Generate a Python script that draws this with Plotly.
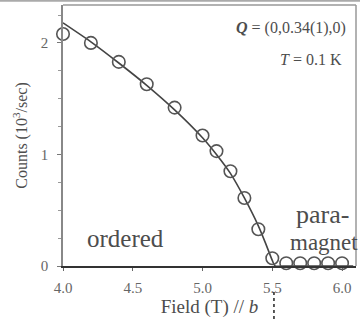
import plotly.graph_objects as go

# Measured intensity vs. field (H // b)
field = [4.0, 4.2, 4.4, 4.6, 4.8, 5.0, 5.1, 5.2, 5.3, 5.4, 5.5, 5.6, 5.7, 5.8, 5.9, 6.0]
counts = [2.08, 2.00, 1.83, 1.63, 1.42, 1.17, 1.03, 0.85, 0.61, 0.33, 0.07,
          0.025, 0.025, 0.025, 0.025, 0.025]

# Fitted order-parameter curve
fit_field = [4.0, 4.2, 4.4, 4.6, 4.8, 5.0, 5.1, 5.2, 5.3, 5.4, 5.45, 5.5, 5.52, 5.6, 5.8, 6.08]
fit_counts = [2.18, 2.01, 1.82, 1.62, 1.40, 1.15, 1.00, 0.83, 0.61, 0.36, 0.21, 0.05, 0.0, 0.0, 0.0, 0.0]

x_ticks = [4.0, 4.5, 5.0, 5.5, 6.0]
x_labels = ["4.0", "4.5", "5.0", "5.5", "6.0"]
y_ticks = [0, 1, 2]
y_labels = ["0", "1", "2"]

SERIF = "Liberation Serif, Times New Roman, serif"
INK = "#4d4d4d"

fig = go.Figure()
fig.add_trace(go.Scatter(
    x=fit_field, y=fit_counts, mode="lines",
    line=dict(color="#444444", width=1.6, shape="spline", smoothing=0.6),
    showlegend=False, hoverinfo="skip",
))
fig.add_trace(go.Scatter(
    x=field, y=counts, mode="markers", cliponaxis=False,
    marker=dict(symbol="circle-open", size=12.5, color="#555555",
                line=dict(width=1.6, color="#555555")),
    showlegend=False,
))

fig.update_layout(
    width=360, height=322,
    margin=dict(l=63, r=4, t=5, b=56),
    paper_bgcolor="white", plot_bgcolor="white",
    font=dict(family=SERIF, color=INK, size=14),
    xaxis=dict(
        range=[4.0, 6.1], showgrid=False, zeroline=False,
        showline=True, linecolor="#333333", linewidth=2,
        tickvals=x_ticks, ticktext=x_labels,
        ticks="outside", ticklen=3, tickcolor="#666666",
        ticklabelstandoff=4,
        tickfont=dict(family=SERIF, size=15, color="#666666"),
        title=dict(text="Field (T) // <i>b</i>", font=dict(family=SERIF, size=19, color=INK),
                   standoff=4),
    ),
    yaxis=dict(
        range=[0, 2.34], showgrid=False, zeroline=False,
        showline=True, linecolor="#888888", linewidth=1.5,
        tickvals=y_ticks, ticktext=y_labels,
        ticks="outside", ticklen=4, tickcolor="#777777",
        ticklabelstandoff=6,
        minor=dict(dtick=0.25, ticks="outside", ticklen=3, tickcolor="#999999"),
        tickfont=dict(family=SERIF, size=15, color="#666666"),
        title=dict(text="Counts (10<sup>3</sup>/sec)", font=dict(family=SERIF, size=16, color=INK),
                   standoff=9),
    ),
)

# frame on top and right, plus the page rule above the figure
fig.add_shape(type="line", xref="paper", yref="paper", x0=0, x1=1, y0=1, y1=1,
              line=dict(color="#999999", width=1.5))
fig.add_shape(type="line", xref="paper", yref="paper", x0=1, x1=1, y0=0, y1=1,
              line=dict(color="#999999", width=1.5))
fig.add_shape(type="line", xref="paper", yref="paper", x0=-0.22, x1=1.02, y0=1.016, y1=1.016,
              line=dict(color="#aaaaaa", width=2))
# dashed marker of the critical field below the axis
fig.add_shape(type="line", xref="paper", yref="paper", x0=0.72, x1=0.72, y0=-0.10, y1=-0.22,
              line=dict(color="#222222", width=1.5, dash="3px,3px"))

fig.add_annotation(x=6.045, y=2.13, xanchor="right", yanchor="middle", showarrow=False,
                   text="<b><i>Q</i></b> = (0,0.34(1),0)",
                   font=dict(family=SERIF, size=16, color=INK))
fig.add_annotation(x=6.015, y=1.85, xanchor="right", yanchor="middle", showarrow=False,
                   text="<i>T</i> = 0.1 K",
                   font=dict(family=SERIF, size=16, color=INK))
fig.add_annotation(x=4.45, y=0.25, xanchor="center", yanchor="middle", showarrow=False,
                   text="ordered", font=dict(family=SERIF, size=25, color=INK))
fig.add_annotation(x=5.86, y=0.46, xanchor="center", yanchor="middle", showarrow=False,
                   text="para-", font=dict(family=SERIF, size=26, color=INK))
fig.add_annotation(xref="paper", x=1.012, y=0.21, xanchor="right", yanchor="middle",
                   showarrow=False, text="magnet",
                   font=dict(family=SERIF, size=23, color=INK))

fig.write_html("out.html")
